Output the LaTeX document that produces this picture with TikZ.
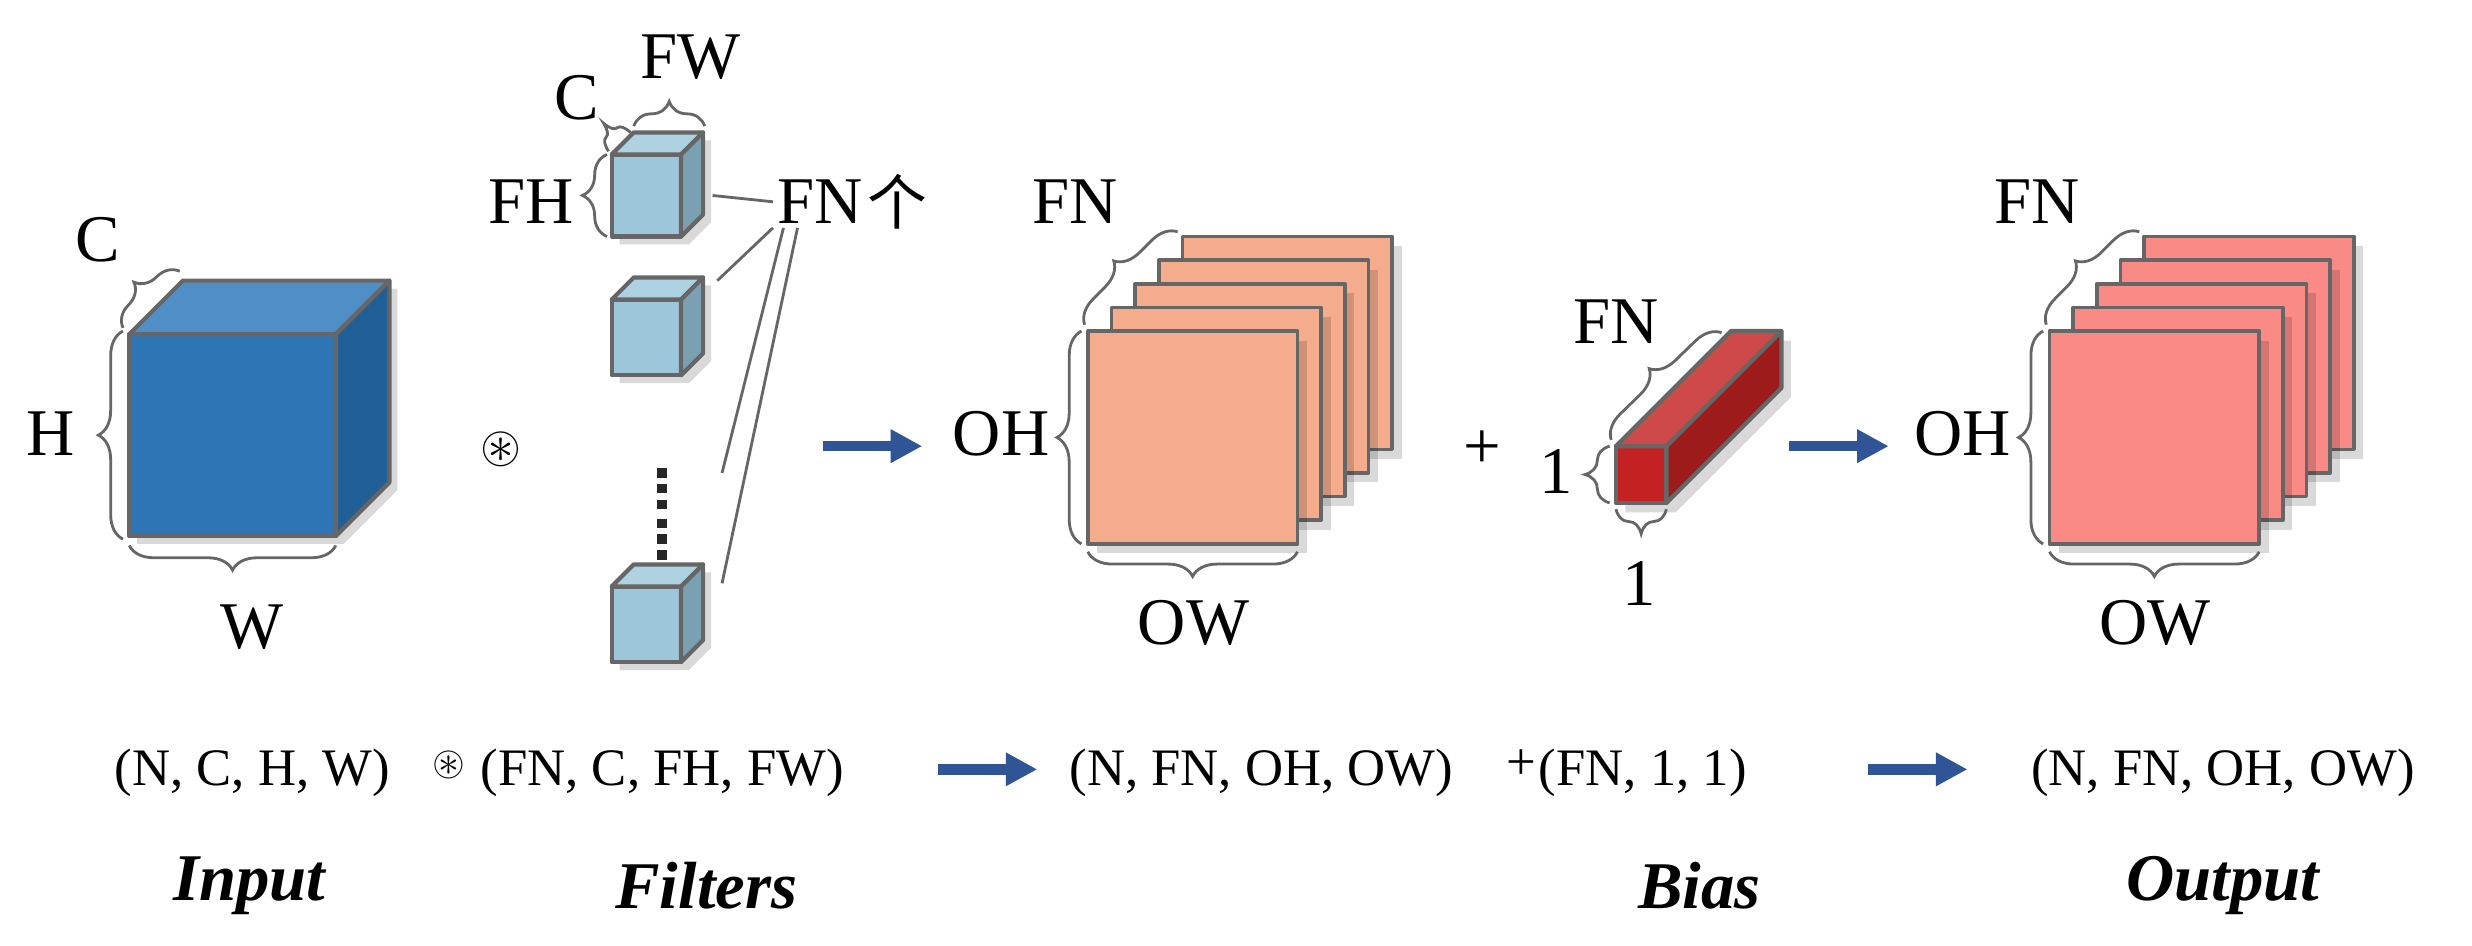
\documentclass[tikz,border=0pt]{standalone}
\usepackage{fontspec}
\usepackage{amssymb}
\setmainfont{Liberation Serif}
\newfontfamily\cjk{Noto Sans CJK SC}
\usetikzlibrary{decorations.pathreplacing,arrows.meta}
\definecolor{arr}{HTML}{2F5597}
\definecolor{edge}{HTML}{666666}
\tikzset{
 lab/.style={font=\fontsize{19}{19}\selectfont,inner sep=1pt},
 tup/.style={font=\fontsize{15}{15}\selectfont,inner sep=1pt},
 captxt/.style={font=\fontsize{19}{19}\selectfont\bfseries\itshape,inner sep=1pt},
 br/.style={decorate,decoration={brace,amplitude=7pt},draw=edge,line width=0.8pt},
 bigarrow/.style={-{Triangle[length=9pt,width=9pt]},line width=3pt,draw=arr},
 thin/.style={draw=edge,line width=0.8pt},
 face/.style={draw=edge,line width=1.2pt,line join=round},
}
\newcommand\mycube[8]{%
 \definecolor{cf}{HTML}{#6}\definecolor{ct}{HTML}{#7}\definecolor{cs}{HTML}{#8}%
 \fill[black,opacity=.15] (#1+5,#2+5) -- ++(#5,-#5) -- ++(#3,0) -- ++(0,#4) -- ++(-#5,#5) -- ++(-#3,0) -- cycle;
 \filldraw[face,fill=cf] (#1,#2) rectangle ++(#3,#4);
 \filldraw[face,fill=ct] (#1,#2) -- ++(#5,-#5) -- ++(#3,0) -- ++(-#5,#5) -- cycle;
 \filldraw[face,fill=cs] (#1+#3,#2) -- ++(#5,-#5) -- ++(0,#4) -- ++(-#5,#5) -- cycle;
}
\newcommand\mystack[3]{%
 \definecolor{cq}{HTML}{#3}%
 \foreach \i in {4,3,2,1,0}{
  \fill[black,opacity=.15] (#1+15*\i+6,#2-15*\i+6) rectangle ++(133,135);
  \filldraw[face,line width=1pt,fill=cq] (#1+15*\i,#2-15*\i) rectangle ++(133,135);
 }
}
\begin{document}
\begin{tikzpicture}[x=0.01577cm,y=-0.01577cm]
\useasboundingbox (0,0) rectangle (1568,600);
% input cube
\mycube{82}{212}{131}{128}{34}{2E75B6}{4F8FC6}{215F97}
\draw[br] (78,342) -- (78,210);
\draw[br] (78,208) -- (114,172);
\draw[br] (213,346) -- (82,346);
\node[lab] (H) at (32,275) {H};
\node[lab] (C) at (62,152) {C};
\node[lab] (W) at (160,398) {W};
\node[font=\fontsize{15}{15}\selectfont] (conv) at (318,285) {$\circledast$};
% filters
\mycube{388}{98}{44}{52}{14}{9DC6DA}{AED2E2}{7BA0B2}
\mycube{388}{190}{44}{48}{14}{9DC6DA}{AED2E2}{7BA0B2}
\mycube{388}{372}{44}{48}{14}{9DC6DA}{AED2E2}{7BA0B2}
\foreach \y in {300,310,320,332,342,352} \fill[black!85] (417,\y-3) rectangle ++(6,6);
\draw[br] (385,150) -- (385,98);
\draw[br] (386,96) -- (400,84);
\draw[br] (402,80) -- (447,80);
\node[lab] (FH) at (337,128) {FH};
\node[lab] (Cf) at (366,62) {C};
\node[lab] (FW) at (438,36) {FW};
\node[lab] (FN) at (520,128) {FN};
\node[inner sep=0pt,font=\cjk\fontsize{17}{17}\selectfont,anchor=west] (ge) at (FN.east) {个};
\coordinate (c1) at (452,124);
\coordinate (c2) at (455,178);
\coordinate (c3) at (458,300);
\coordinate (c4) at (458,370);
\draw[thin] (c1) -- (FN.west);
\draw[thin] (FN.south west) -- (c2);
\draw[thin] ([xshift=3]FN.south west) -- (c3);
\draw[thin] ([xshift=7]FN.south west) -- (c4);
% arrow 1
\coordinate (a1s) at (522,283); \coordinate (a1e) at (585,283);
\draw[bigarrow] (a1s) -- (a1e);
% conv output stack
\mystack{690}{210}{F5AC8D}
\draw[br] (686,345) -- (686,210);
\draw[br] (688,206) -- (747,147);
\draw[br] (823,350) -- (690,350);
\node[lab] (OH) at (635,275) {OH};
\node[lab] (FN2) at (682,128) {FN};
\node[lab] (OW) at (757,395) {OW};
\node[lab] (plus) at (940,285) {+};
% bias bar
\definecolor{b1}{HTML}{C42222}\definecolor{b2}{HTML}{CE4A4A}\definecolor{b3}{HTML}{9E1B1B}
\fill[black,opacity=.15] (1031,289) -- ++(73,-73) -- ++(32,0) -- ++(0,36) -- ++(-73,73) -- ++(-32,0) -- cycle;
\filldraw[face,fill=b1] (1025,283) rectangle ++(32,36);
\filldraw[face,fill=b2] (1025,283) -- ++(73,-73) -- ++(32,0) -- ++(-73,73) -- cycle;
\filldraw[face,fill=b3] (1057,283) -- ++(73,-73) -- ++(0,36) -- ++(-73,73) -- cycle;
\draw[br] (1021,319) -- (1021,283);
\draw[br] (1022,279) -- (1092,211);
\draw[br] (1057,323) -- (1025,323);
\node[lab] (FNb) at (1025,204) {FN};
\node[lab] (one1) at (987,299) {1};
\node[lab] (one2) at (1040,370) {1};
% arrow 2
\coordinate (a2s) at (1135,283); \coordinate (a2e) at (1198,283);
\draw[bigarrow] (a2s) -- (a2e);
% output stack
\mystack{1300}{210}{FA8A85}
\draw[br] (1296,345) -- (1296,210);
\draw[br] (1298,206) -- (1357,147);
\draw[br] (1433,350) -- (1300,350);
\node[lab] (OH2) at (1245,275) {OH};
\node[lab] (FN3) at (1292,128) {FN};
\node[lab] (OW2) at (1367,395) {OW};
% bottom row
\node[tup] (t1) at (160,490) {(N, C, H, W)};
\node[font=\fontsize{12}{12}\selectfont] (t2) at (285,485) {$\circledast$};
\node[tup] (t3) at (420,490) {(FN, C, FH, FW)};
\coordinate (a3s) at (595,488); \coordinate (a3e) at (658,488);
\draw[bigarrow] (a3s) -- (a3e);
\node[tup] (t4) at (800,490) {(N, FN, OH, OW)};
\node[tup] (t5) at (965,485) {+};
\node[tup] (t6) at (1042,490) {(FN, 1, 1)};
\coordinate (a4s) at (1185,488); \coordinate (a4e) at (1248,488);
\draw[bigarrow] (a4s) -- (a4e);
\node[tup] (t7) at (1410,490) {(N, FN, OH, OW)};
\node[captxt] (in) at (158,562) {Input};
\node[captxt] (fi) at (448,562) {Filters};
\node[captxt] (bi) at (1078,562) {Bias};
\node[captxt] (ou) at (1410,562) {Output};
\end{tikzpicture}
\end{document}
